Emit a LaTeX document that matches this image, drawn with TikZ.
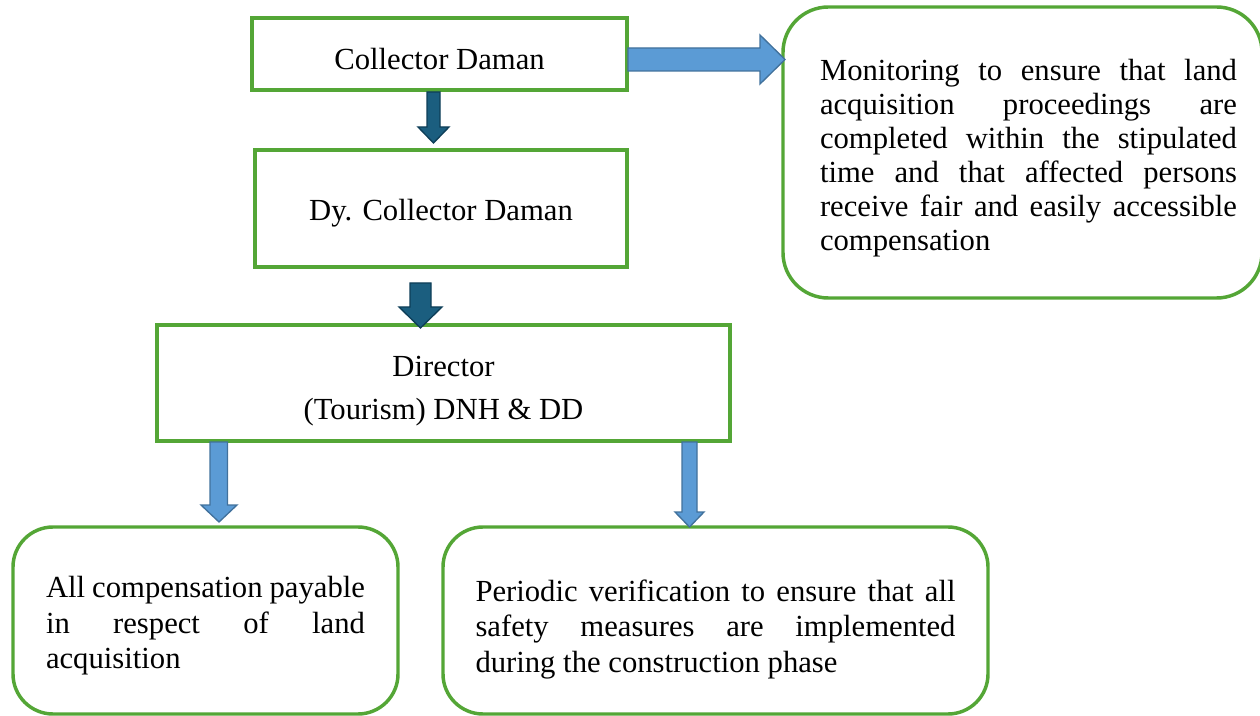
\documentclass[tikz,border=0pt]{standalone}
\usepackage{fontspec}
\setmainfont{Liberation Serif}
\definecolor{boxgreen}{RGB}{84,166,54}
\definecolor{arrblue}{RGB}{91,155,213}
\definecolor{arrblueline}{RGB}{65,113,156}
\definecolor{arrdark}{RGB}{27,94,127}
\definecolor{arrdarkline}{RGB}{14,62,88}
\tikzset{
  flatbox/.style={draw=boxgreen, line width=2.6pt, fill=white, inner sep=0pt},
  roundbox/.style={flatbox, rounded corners=30pt},
  txt/.style={inner sep=0pt, align=center, font=\fontsize{23}{25.5}\selectfont},
  bluearrow/.style={fill=arrblue, draw=arrblueline, line width=1pt, line join=miter},
  darkarrow/.style={fill=arrdark, draw=arrdarkline, line width=1pt, line join=miter},
}
\newcommand\jl[2]{\makebox[#1][s]{#2}}
\begin{document}
\begin{tikzpicture}[x=0.75pt,y=-0.75pt]
\useasboundingbox (0,0) rectangle (1260,716);

% boxes
\node[flatbox, minimum width=281.25pt, minimum height=54pt] (cd) at (439.5,54) {};
\node[flatbox, minimum width=279pt, minimum height=87.75pt] (dy) at (441,208.5) {};
\node[flatbox, minimum width=429.75pt, minimum height=87pt] (dir) at (443.5,383) {};
\node[roundbox, rounded corners=34pt, minimum width=359.25pt, minimum height=218.25pt] (mon) at (1022.5,152.5) {};
\node[roundbox, minimum width=288.75pt, minimum height=140.25pt] (bl) at (205.5,620.5) {};
\node[roundbox, minimum width=408.75pt, minimum height=140.25pt] (br) at (715.5,620.5) {};

% texts
\node[txt] (cdt) at ([yshift=-5*0.75pt]cd.center) {Collector Daman};
\node[txt] (dyt) at ([yshift=-5*0.75pt]dy.center) {Dy. Collector Daman};
\node[txt] (dirt) at ([yshift=-8*0.75pt]dir.center) {Director\\[6.75pt](Tourism) DNH \& DD};

\node[txt] (mont) at ([xshift=6*0.75pt,yshift=-6*0.75pt]mon.center) {%
\begin{minipage}{312.75pt}\fontsize{23}{25.5}\selectfont
\jl{\linewidth}{Monitoring to ensure that land}\\
\jl{\linewidth}{acquisition proceedings are}\\
\jl{\linewidth}{completed within the stipulated}\\
\jl{\linewidth}{time and that affected persons}\\
\jl{\linewidth}{receive fair and easily accessible}\\
compensation
\end{minipage}};

\node[txt] (blt) at ([yshift=-5.5*0.75pt]bl.center) {%
\begin{minipage}{239.25pt}\fontsize{23}{26.6}\selectfont
\jl{\linewidth}{All compensation payable}\\
\jl{\linewidth}{in respect of land}\\
acquisition
\end{minipage}};

\node[txt] (brt) at ([yshift=-9*0.75pt]br.center) {%
\begin{minipage}{360pt}\fontsize{23}{26.6}\selectfont
\jl{\linewidth}{Periodic verification to ensure that all}\\
\jl{\linewidth}{safety measures are implemented}\\
during the construction phase
\end{minipage}};

% block arrows
\draw[bluearrow] (628,48) -- (760,48) -- (760,35) -- (785,59.5) -- (760,84) -- (760,71) -- (628,71) -- cycle;
\draw[darkarrow] (427,92) -- (440,92) -- (440,127) -- (449,127) -- (433.5,143) -- (418,127) -- (427,127) -- cycle;
\draw[darkarrow] (410,283) -- (431,283) -- (431,307) -- (442,307) -- (420.5,328) -- (399,307) -- (410,307) -- cycle;
\draw[bluearrow] (210,442) -- (227.5,442) -- (227.5,505) -- (237,505) -- (219,522) -- (201,505) -- (210,505) -- cycle;
\draw[bluearrow] (682,442) -- (697,442) -- (697,512) -- (704,512) -- (689.5,527) -- (675,512) -- (682,512) -- cycle;
\end{tikzpicture}
\end{document}
